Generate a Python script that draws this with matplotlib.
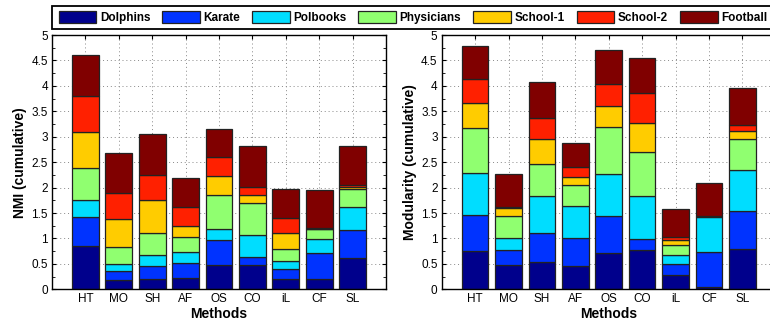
import matplotlib
matplotlib.use("Agg")
import matplotlib.pyplot as plt
from matplotlib.ticker import MultipleLocator
from matplotlib.patches import Rectangle
import numpy as np

plt.rcParams['font.family'] = ['Liberation Sans', 'DejaVu Sans']

methods = ["HT", "MO", "SH", "AF", "OS", "CO", "iL", "CF", "SL"]
datasets = ["Dolphins", "Karate", "Polbooks", "Physicians", "School-1", "School-2", "Football"]
colors = ["#00008C", "#0033FF", "#00DDFF", "#90FF70", "#FFCC00", "#FF2000", "#800000"]

# NMI per method: values for each dataset (Dolphins..Football)
nmi_HT = [0.85, 0.58, 0.32, 0.63, 0.71, 0.72, 0.79]
nmi_MO = [0.19, 0.16, 0.15, 0.33, 0.55, 0.51, 0.79]
nmi_SH = [0.20, 0.25, 0.22, 0.43, 0.65, 0.50, 0.80]
nmi_AF = [0.22, 0.30, 0.22, 0.28, 0.22, 0.37, 0.57]
nmi_OS = [0.47, 0.49, 0.23, 0.66, 0.38, 0.37, 0.55]
nmi_CO = [0.47, 0.16, 0.44, 0.63, 0.16, 0.16, 0.80]
nmi_iL = [0.20, 0.19, 0.16, 0.24, 0.31, 0.31, 0.56]
nmi_CF = [0.20, 0.51, 0.28, 0.20, 0.00, 0.01, 0.75]
nmi_SL = [0.62, 0.55, 0.44, 0.36, 0.05, 0.04, 0.76]

# Modularity per method
mod_HT = [0.75, 0.71, 0.83, 0.89, 0.49, 0.46, 0.65]
mod_MO = [0.48, 0.30, 0.23, 0.43, 0.15, 0.02, 0.66]
mod_SH = [0.53, 0.58, 0.72, 0.63, 0.49, 0.41, 0.71]
mod_AF = [0.46, 0.54, 0.63, 0.43, 0.15, 0.19, 0.47]
mod_OS = [0.71, 0.73, 0.83, 0.93, 0.41, 0.42, 0.67]
mod_CO = [0.77, 0.21, 0.85, 0.87, 0.57, 0.58, 0.70]
mod_iL = [0.28, 0.22, 0.17, 0.21, 0.09, 0.05, 0.55]
mod_CF = [0.04, 0.69, 0.69, 0.02, 0.01, 0.00, 0.64]
mod_SL = [0.80, 0.73, 0.81, 0.62, 0.15, 0.13, 0.71]

nmi = np.array([nmi_HT, nmi_MO, nmi_SH, nmi_AF, nmi_OS, nmi_CO, nmi_iL, nmi_CF, nmi_SL])
mod = np.array([mod_HT, mod_MO, mod_SH, mod_AF, mod_OS, mod_CO, mod_iL, mod_CF, mod_SL])

fig = plt.figure(figsize=(7.7, 3.27), dpi=100)
W, H = 770.0, 327.0
ax1 = fig.add_axes([52 / W, (H - 289.3) / H, 334 / W, 254.3 / H])
ax2 = fig.add_axes([441.7 / W, (H - 289.3) / H, 334 / W, 254.3 / H])

x = np.arange(1, len(methods) + 1)
handles = []
for ax, data, ylabel in [(ax1, nmi, "NMI (cumulative)"), (ax2, mod, "Modularity (cumulative)")]:
    ax.set_axisbelow(True)
    bottom = np.zeros(len(methods))
    for j, ds in enumerate(datasets):
        b = ax.bar(x, data[:, j], 0.8, bottom=bottom, color=colors[j],
                   edgecolor="#222222", linewidth=0.9, label=ds)
        bottom += data[:, j]
        if ax is ax1:
            handles.append(b)
    ax.set_xlim(0, 10)
    ax.set_ylim(0, 5)
    ax.set_xticks(x)
    ax.set_xticklabels(methods, fontsize=8.5)
    ax.yaxis.set_minor_locator(MultipleLocator(0.25))
    ax.set_yticks(np.arange(0, 5.01, 0.5))
    ax.set_yticklabels(["0", "0.5", "1", "1.5", "2", "2.5", "3", "3.5", "4", "4.5", "5"], fontsize=8.5)
    ax.tick_params(direction="in", top=True, right=True, length=3, width=0.8, pad=3)
    ax.tick_params(which="minor", direction="in", left=True, right=True, length=2, width=0.6)
    ax.grid(True, which="major", linestyle=(0, (1, 3)), color="#888888", linewidth=0.7)
    ax.set_xlabel("Methods", fontsize=10, fontweight="bold", labelpad=1)
    ax.set_ylabel(ylabel, fontsize=10, fontweight="bold", labelpad=3)
    for s in ax.spines.values():
        s.set_linewidth(1.0)

# legend frame (extends beyond the right edge, as in the reference)
frame = Rectangle((52 / W, (H - 29) / H), (800 - 52) / W, 23 / H,
                  transform=fig.transFigure, facecolor="white", edgecolor="black",
                  linewidth=1.3, clip_on=False, zorder=5)
fig.add_artist(frame)

leg = fig.legend(handles, datasets, loc="center left",
                 bbox_to_anchor=(58.5 / W, (H - 17.8) / H),
                 ncol=7, frameon=False,
                 prop={"weight": "bold", "size": 8.5},
                 handlelength=3.2, handleheight=1.2, handletextpad=0.3,
                 columnspacing=1.0, borderpad=0, borderaxespad=0)
leg.set_zorder(6)

fig.savefig("out.png", dpi=100)
